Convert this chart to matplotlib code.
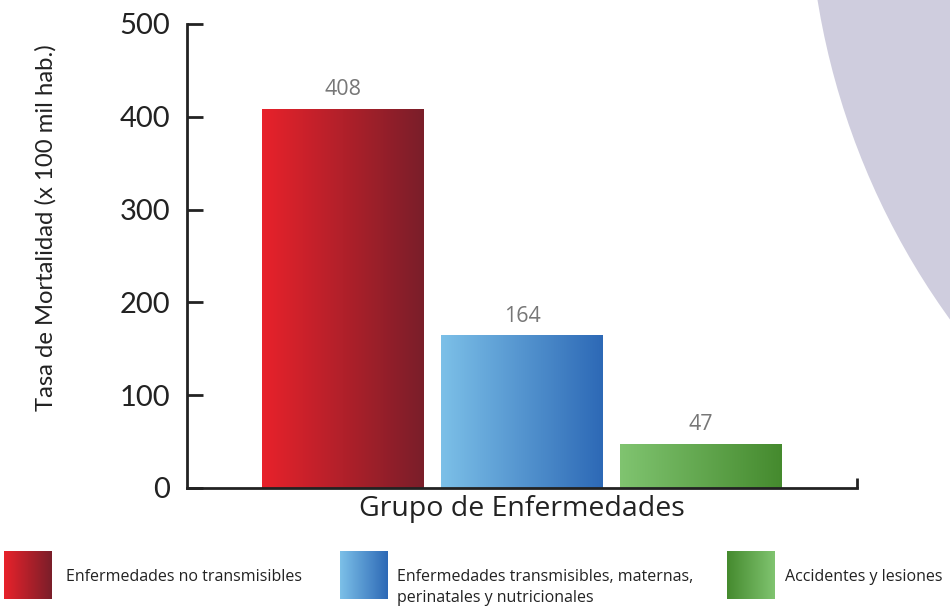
import matplotlib
matplotlib.use("Agg")
import matplotlib.pyplot as plt
import numpy as np
from matplotlib.colors import LinearSegmentedColormap
from matplotlib.patches import Circle

categories = ["Enfermedades no transmisibles",
              "Enfermedades transmisibles, maternas,\nperinatales y nutricionales",
              "Accidentes y lesiones"]
values = [408, 164, 47]
yticks = [0, 100, 200, 300, 400, 500]
bar_grads = [("#e8222b", "#7a1e29"), ("#7cc0e8", "#2d69b6"), ("#80c470", "#458a2e")]
legend_grads = [("#e8222b", "#7a1e29"), ("#7cc0e8", "#2d69b6"), ("#458a2e", "#80c470")]

W, H = 950, 606
fig = plt.figure(figsize=(W / 100, H / 100), dpi=100)
fig.patch.set_facecolor("white")

# background overlay in pixel coordinates
bg = fig.add_axes([0, 0, 1, 1], zorder=0)
bg.set_xlim(0, W)
bg.set_ylim(H, 0)
bg.axis("off")
bg.add_patch(Circle((1556, -119), 748, facecolor="#cfcdde", edgecolor="none"))

ax = fig.add_axes([187 / W, 1 - 488 / H, (857 - 187) / W, (488 - 24) / H], zorder=1)
ax.patch.set_alpha(0)

x = np.arange(len(values))
bars = ax.bar(x, values, width=162 / 179, color="none", edgecolor="none")
grad = np.linspace(0, 1, 256).reshape(1, -1)
for b, (c0, c1), v in zip(bars, bar_grads, values):
    cmap = LinearSegmentedColormap.from_list("g", [c0, c1])
    x0, w, h = b.get_x(), b.get_width(), b.get_height()
    ax.imshow(grad, cmap=cmap, extent=[x0, x0 + w, 0, h], aspect="auto", zorder=2)
    ax.text(x0 + w / 2, h + 10, str(v), ha="center", va="bottom",
            fontsize=15.5, color="#777777", family="Open Sans")

ax.set_xlim(-0.872, 2.872)
ax.set_ylim(0, 500)
ax.set_aspect("auto")
ax.set_yticks(yticks)
ax.set_yticklabels([str(t) for t in yticks], fontsize=21, color="#222222", family="Lato")
ax.tick_params(axis="y", direction="in", length=11.5, width=2, color="#222222", pad=12)
ax.set_xticks([])
for s in ["top", "right"]:
    ax.spines[s].set_visible(False)
for s in ["left", "bottom"]:
    ax.spines[s].set_linewidth(2)
    ax.spines[s].set_color("#222222")
ax.spines["bottom"].set_zorder(3)
# small end tick on x axis
ax.plot([1, 1], [0, 0.022], transform=ax.transAxes, color="#222222", lw=2, clip_on=False, solid_capstyle="butt")

bg.text(46, 228, "Tasa de Mortalidad (x 100 mil hab.)", rotation=90, ha="center", va="center",
        fontsize=17.2, color="#222222", family="Lato")
ax.set_xlabel("Grupo de Enfermedades", fontsize=20.5, color="#222222",
              family="Open Sans", labelpad=5)

# legend
key_x = [4, 340, 727]
txt_x = [66, 397, 785]
for kx, tx, (c0, c1), lab in zip(key_x, txt_x, legend_grads, categories):
    cmap = LinearSegmentedColormap.from_list("g", [c0, c1])
    bg.imshow(grad, cmap=cmap, extent=[kx, kx + 48, 599, 551], aspect="auto", zorder=2)
    if "\n" in lab:
        bg.text(tx, 569, lab, ha="left", va="top",
                fontsize=11.5, color="#222222", family="Open Sans", linespacing=1.45)
    else:
        bg.text(tx, 577, lab, ha="left", va="center",
                fontsize=11.5, color="#222222", family="Open Sans")
bg.set_xlim(0, W)
bg.set_ylim(H, 0)

fig.savefig("out.png", dpi=100)
